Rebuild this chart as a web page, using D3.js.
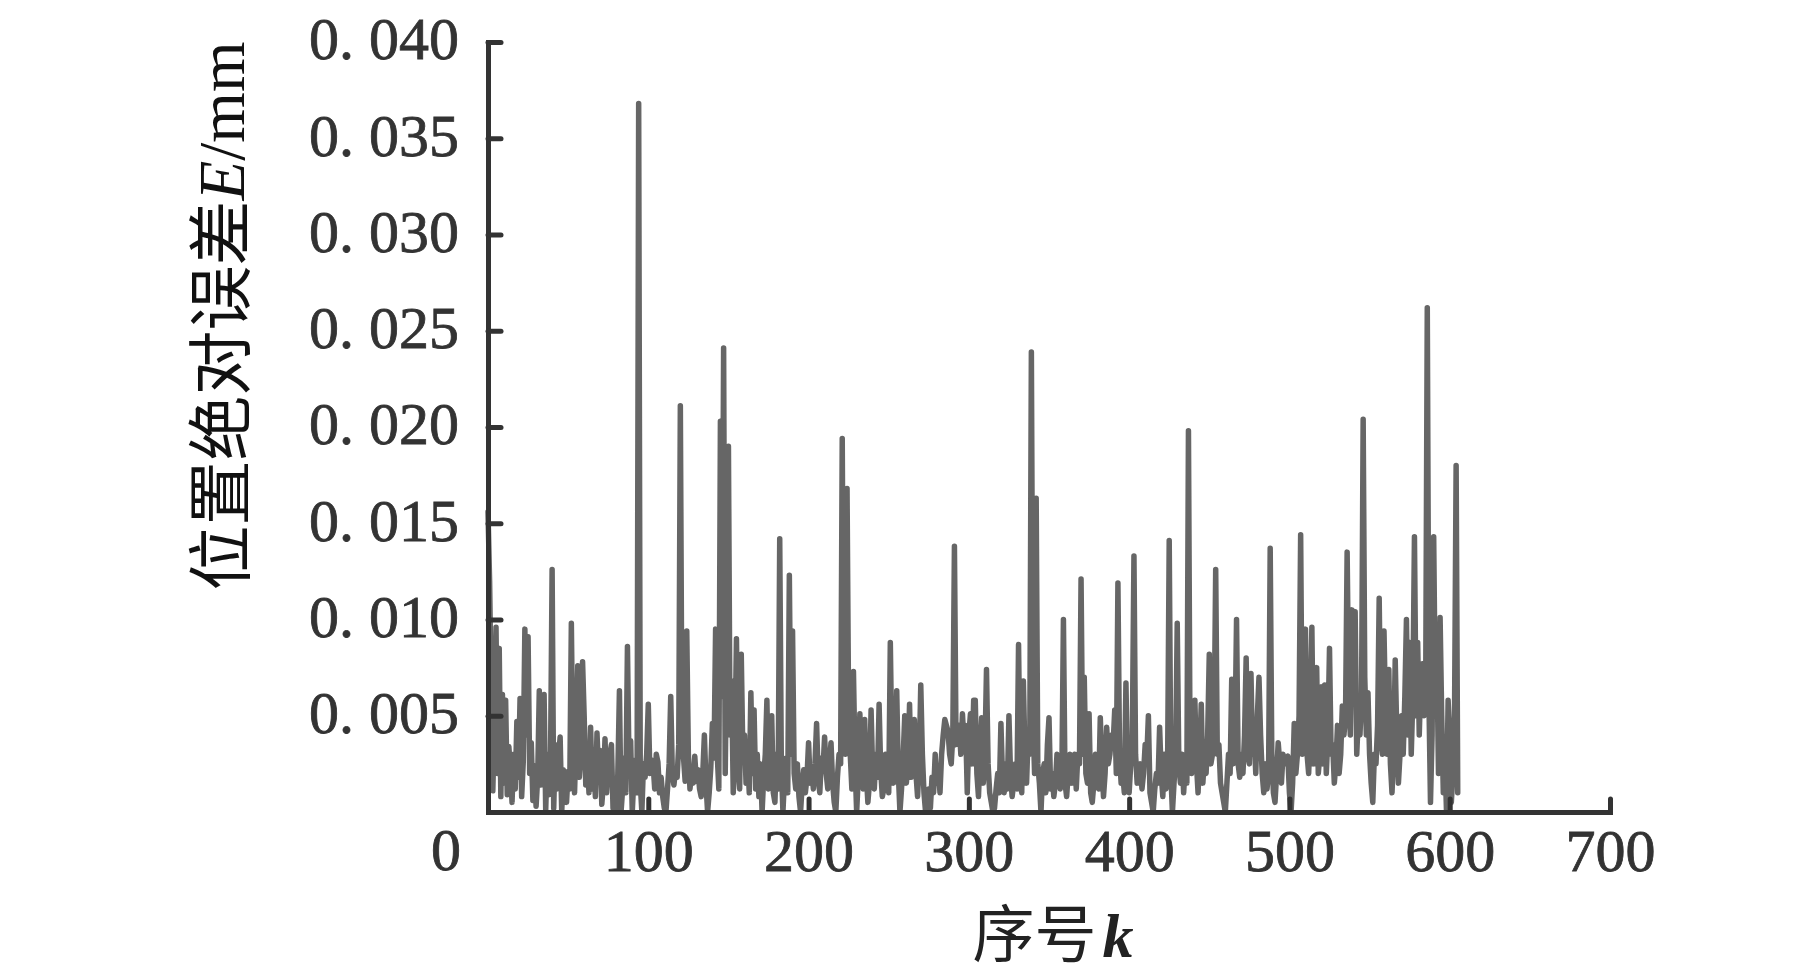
<!DOCTYPE html>
<html>
<head>
<meta charset="utf-8">
<script src="https://cdn.jsdelivr.net/npm/d3@7"></script>
<style>
  html, body { margin: 0; padding: 0; background: #fff; }
  svg { display: block; }
</style>
</head>
<body>
<svg id="chart" width="1819" height="976"></svg>
<script>
// ---- data ----
const xTicks = [100, 200, 300, 400, 500, 600, 700];
const yTicks = [0.005, 0.010, 0.015, 0.020, 0.025, 0.030, 0.035, 0.040];
const yTickLabels = ["0. 005", "0. 010", "0. 015", "0. 020", "0. 025", "0. 030", "0. 035", "0. 040"];
const originLabel = "0";
const xTitle = ["序号", "k"];
const yTitle = ["位置绝对误差", "E", "/mm"];
// absolute position error E (mm) for sample index k = 0,1,2,...
const errorValues = [
  0.0156, 0.0120, 0.0060, 0.0011, 0.0045, 0.0096, 0.0020, 0.0085, 0.0008, 0.0061,
  0.0015, 0.0058, 0.0009, 0.0034, 0.0022, 0.0005, 0.0030, 0.0012, 0.0047, 0.0018,
  0.0059, 0.0008, 0.0026, 0.0095, 0.0040, 0.0091, 0.0020, 0.0036, 0.0006, 0.0024,
  0.0003, 0.0018, 0.0063, 0.0014, 0.0028, 0.0061, 0.0001, 0.0030, 0.0009, 0.0025,
  0.0126, 0.0002, 0.0035, 0.0012, 0.0028, 0.0039, 0.0000, 0.0022, 0.0016, 0.0005,
  0.0021, 0.0012, 0.0098, 0.0025, 0.0010, 0.0040, 0.0076, 0.0018, 0.0030, 0.0078,
  0.0050, 0.0014, 0.0028, 0.0010, 0.0044, 0.0012, 0.0025, 0.0008, 0.0041, 0.0020,
  0.0032, 0.0004, 0.0015, 0.0038, 0.0010, 0.0024, 0.0030, 0.0035, 0.0002, 0.0014,
  0.0001, 0.0020, 0.0063, 0.0000, 0.0012, 0.0028, 0.0010, 0.0086, 0.0022, 0.0037,
  0.0000, 0.0018, 0.0027, 0.0010, 0.0368, 0.0015, 0.0000, 0.0025, 0.0018, 0.0030,
  0.0056, 0.0020, 0.0027, 0.0025, 0.0012, 0.0030, 0.0026, 0.0010, 0.0018, 0.0008,
  0.0002, 0.0000, 0.0012, 0.0025, 0.0060, 0.0020, 0.0014, 0.0022, 0.0018, 0.0035,
  0.0211, 0.0040, 0.0028, 0.0016, 0.0094, 0.0030, 0.0012, 0.0020, 0.0015, 0.0029,
  0.0016, 0.0022, 0.0012, 0.0008, 0.0020, 0.0040, 0.0015, 0.0000, 0.0010, 0.0023,
  0.0046, 0.0028, 0.0095, 0.0030, 0.0012, 0.0203, 0.0060, 0.0241, 0.0020, 0.0090,
  0.0190, 0.0040, 0.0068, 0.0010, 0.0030, 0.0090, 0.0025, 0.0012, 0.0082, 0.0030,
  0.0040, 0.0015, 0.0028, 0.0010, 0.0062, 0.0020, 0.0053, 0.0012, 0.0030, 0.0008,
  0.0025, 0.0000, 0.0018, 0.0030, 0.0058, 0.0012, 0.0022, 0.0050, 0.0010, 0.0005,
  0.0030, 0.0012, 0.0142, 0.0025, 0.0000, 0.0018, 0.0028, 0.0010, 0.0123, 0.0030,
  0.0094, 0.0020, 0.0012, 0.0025, 0.0008, 0.0000, 0.0014, 0.0022, 0.0010, 0.0018,
  0.0036, 0.0015, 0.0022, 0.0012, 0.0025, 0.0046, 0.0018, 0.0010, 0.0028, 0.0022,
  0.0039, 0.0020, 0.0012, 0.0025, 0.0036, 0.0015, 0.0005, 0.0000, 0.0018, 0.0030,
  0.0025, 0.0194, 0.0040, 0.0030, 0.0168, 0.0050, 0.0030, 0.0012, 0.0073, 0.0025,
  0.0000, 0.0018, 0.0051, 0.0025, 0.0012, 0.0048, 0.0020, 0.0005, 0.0015, 0.0053,
  0.0020, 0.0012, 0.0030, 0.0018, 0.0056, 0.0022, 0.0008, 0.0012, 0.0030, 0.0020,
  0.0010, 0.0088, 0.0030, 0.0015, 0.0025, 0.0063, 0.0020, 0.0000, 0.0012, 0.0028,
  0.0050, 0.0015, 0.0025, 0.0056, 0.0018, 0.0030, 0.0048, 0.0020, 0.0008, 0.0025,
  0.0066, 0.0030, 0.0010, 0.0000, 0.0005, 0.0012, 0.0002, 0.0018, 0.0010, 0.0030,
  0.0015, 0.0022, 0.0010, 0.0030, 0.0040, 0.0048, 0.0045, 0.0042, 0.0030, 0.0025,
  0.0040, 0.0138, 0.0035, 0.0040, 0.0045, 0.0030, 0.0051, 0.0035, 0.0045, 0.0010,
  0.0040, 0.0051, 0.0025, 0.0058, 0.0058, 0.0020, 0.0008, 0.0030, 0.0049, 0.0015,
  0.0030, 0.0074, 0.0025, 0.0010, 0.0005, 0.0000, 0.0002, 0.0012, 0.0020, 0.0010,
  0.0046, 0.0018, 0.0010, 0.0025, 0.0012, 0.0050, 0.0020, 0.0008, 0.0015, 0.0025,
  0.0012, 0.0087, 0.0020, 0.0010, 0.0068, 0.0030, 0.0015, 0.0040, 0.0030, 0.0239,
  0.0050, 0.0020, 0.0163, 0.0025, 0.0015, 0.0000, 0.0020, 0.0025, 0.0010, 0.0035,
  0.0049, 0.0012, 0.0020, 0.0008, 0.0015, 0.0030, 0.0025, 0.0012, 0.0018, 0.0100,
  0.0015, 0.0008, 0.0020, 0.0030, 0.0015, 0.0022, 0.0030, 0.0012, 0.0030, 0.0025,
  0.0121, 0.0030, 0.0070, 0.0020, 0.0015, 0.0051, 0.0010, 0.0005, 0.0015, 0.0030,
  0.0020, 0.0012, 0.0049, 0.0025, 0.0008, 0.0020, 0.0044, 0.0025, 0.0030, 0.0040,
  0.0035, 0.0053, 0.0020, 0.0119, 0.0030, 0.0015, 0.0020, 0.0010, 0.0067, 0.0018,
  0.0010, 0.0025, 0.0040, 0.0133, 0.0030, 0.0015, 0.0020, 0.0025, 0.0012, 0.0020,
  0.0035, 0.0028, 0.0050, 0.0010, 0.0005, 0.0000, 0.0012, 0.0020, 0.0015, 0.0044,
  0.0020, 0.0008, 0.0030, 0.0012, 0.0025, 0.0141, 0.0020, 0.0000, 0.0015, 0.0028,
  0.0098, 0.0025, 0.0015, 0.0030, 0.0010, 0.0025, 0.0015, 0.0198, 0.0030, 0.0020,
  0.0035, 0.0058, 0.0025, 0.0010, 0.0030, 0.0056, 0.0015, 0.0030, 0.0020, 0.0040,
  0.0082, 0.0025, 0.0030, 0.0040, 0.0126, 0.0030, 0.0035, 0.0015, 0.0010, 0.0005,
  0.0000, 0.0015, 0.0030, 0.0020, 0.0069, 0.0025, 0.0035, 0.0100, 0.0025, 0.0018,
  0.0030, 0.0020, 0.0040, 0.0080, 0.0030, 0.0025, 0.0072, 0.0030, 0.0040, 0.0020,
  0.0050, 0.0070, 0.0040, 0.0020, 0.0010, 0.0025, 0.0012, 0.0020, 0.0137, 0.0030,
  0.0010, 0.0005, 0.0020, 0.0036, 0.0025, 0.0015, 0.0030, 0.0025, 0.0028, 0.0029,
  0.0010, 0.0000, 0.0015, 0.0046, 0.0020, 0.0030, 0.0050, 0.0144, 0.0030, 0.0035,
  0.0095, 0.0030, 0.0020, 0.0045, 0.0096, 0.0025, 0.0040, 0.0075, 0.0020, 0.0030,
  0.0065, 0.0025, 0.0066, 0.0020, 0.0040, 0.0085, 0.0030, 0.0035, 0.0015, 0.0025,
  0.0045, 0.0020, 0.0030, 0.0055, 0.0040, 0.0050, 0.0135, 0.0060, 0.0040, 0.0105,
  0.0070, 0.0104, 0.0030, 0.0050, 0.0040, 0.0060, 0.0204, 0.0070, 0.0040, 0.0062,
  0.0030, 0.0015, 0.0005, 0.0030, 0.0025, 0.0045, 0.0111, 0.0040, 0.0030, 0.0094,
  0.0050, 0.0030, 0.0074, 0.0025, 0.0010, 0.0030, 0.0079, 0.0040, 0.0015, 0.0030,
  0.0050, 0.0030, 0.0060, 0.0100, 0.0040, 0.0088, 0.0030, 0.0060, 0.0143, 0.0050,
  0.0088, 0.0040, 0.0070, 0.0077, 0.0050, 0.0060, 0.0262, 0.0060, 0.0005, 0.0040,
  0.0143, 0.0060, 0.0080, 0.0020, 0.0101, 0.0050, 0.0010, 0.0030, 0.0000, 0.0058,
  0.0040, 0.0005, 0.0020, 0.0050, 0.0180, 0.0010
];

// ---- layout ----
const svg = d3.select("#chart");
const x = d3.scaleLinear().domain([0, 700]).range([488, 1610]);
const y = d3.scaleLinear().domain([0, 0.040]).range([812, 42]);
const axisColor = "#333333";
const lineColor = "#666666";
const numFont = "'Liberation Serif', 'Times New Roman', serif";
const cjkFont = "'Noto Sans CJK SC', sans-serif";

// data line
const line = d3.line()
  .x((d, i) => x(i))
  .y(d => y(d));

svg.append("path")
  .datum(errorValues)
  .attr("d", line)
  .attr("fill", "none")
  .attr("stroke", lineColor)
  .attr("stroke-width", 5.5)
  .attr("stroke-linejoin", "round")
  .attr("stroke-linecap", "round");

// y axis
const yAxis = d3.axisLeft(y)
  .tickValues(yTicks)
  .tickSizeInner(-13)
  .tickSizeOuter(0)
  .tickPadding(29)
  .tickFormat((d, i) => yTickLabels[i]);

const gy = svg.append("g")
  .attr("transform", `translate(${x(0)},0)`)
  .call(yAxis);

// x axis
const xAxis = d3.axisBottom(x)
  .tickValues(xTicks)
  .tickSizeInner(-13)
  .tickSizeOuter(0)
  .tickPadding(16)
  .tickFormat(d3.format("d"));

const gx = svg.append("g")
  .attr("transform", `translate(0,${y(0)})`)
  .call(xAxis);

[gx, gy].forEach(g => {
  g.select(".domain")
    .attr("stroke", axisColor)
    .attr("stroke-width", 5)
    .attr("stroke-linecap", "square");
  g.selectAll(".tick line")
    .attr("stroke", axisColor)
    .attr("stroke-width", 5)
    .attr("stroke-linecap", "round");
  g.selectAll(".tick text")
    .attr("fill", axisColor)
    .attr("stroke", axisColor)
    .attr("stroke-width", 0.8)
    .style("font-family", numFont)
    .style("font-size", "60px");
});

gy.selectAll(".tick text").attr("dy", "0.28em");
gx.selectAll(".tick text").attr("dy", "0.71em");

// corner "0" label
svg.append("text")
  .attr("x", x(0) - 42)
  .attr("y", y(0) + 58)
  .attr("text-anchor", "middle")
  .attr("fill", axisColor)
  .attr("stroke", axisColor)
  .attr("stroke-width", 0.8)
  .style("font-family", numFont)
  .style("font-size", "60px")
  .text(originLabel);

// x title
const xt = svg.append("text")
  .attr("x", (x(0) + x(700)) / 2 + 4)
  .attr("y", 957)
  .attr("text-anchor", "middle")
  .attr("fill", "#222222")
  .style("font-size", "62px");
xt.append("tspan").style("font-family", cjkFont).text(xTitle[0]);
xt.append("tspan").style("font-family", numFont).style("font-style", "italic")
  .style("font-weight", "bold").attr("dx", 6).text(xTitle[1]);

// y title
const yt = svg.append("text")
  .attr("transform", `translate(244, 316) rotate(-90)`)
  .attr("text-anchor", "middle")
  .attr("fill", "#111111")
  .style("font-size", "65px");
yt.append("tspan").style("font-family", cjkFont).text(yTitle[0]);
yt.append("tspan").style("font-family", numFont).style("font-style", "italic").text(yTitle[1]);
yt.append("tspan").style("font-family", numFont).text(yTitle[2]);
</script>
</body>
</html>
